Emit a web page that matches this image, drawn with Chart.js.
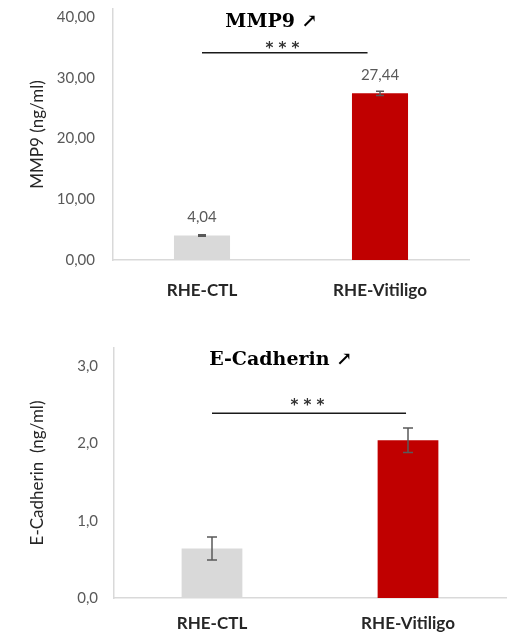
<!DOCTYPE html>
<html>
<head>
<meta charset="utf-8">
<script src="https://cdn.jsdelivr.net/npm/chart.js@4/dist/chart.umd.min.js"></script>
<style>
  body { margin: 0; background: #ffffff; }
  .panel { position: relative; width: 508px; }
</style>
</head>
<body>
<div class="panel" style="height:310px"><canvas id="mmp9"></canvas></div>
<div class="panel" style="height:324px"><canvas id="ecad"></canvas></div>
<script>
  const categories = ["RHE-CTL", "RHE-Vitiligo"];
  const mmp9Values = [4.04, 27.44];
  const mmp9Errors = [0.12, 0.35];
  const mmp9Ticks = [0, 10, 20, 30, 40];
  const ecadValues = [0.64, 2.04];
  const ecadErrors = [0.15, 0.16];
  const ecadTicks = [0, 1, 2, 3];

  const barColors = ["#d9d9d9", "#c00000"];
  const textGray = "#595959";
  const textDark = "#262626";

  function commaNumber(value, digits) {
    return Number(value).toFixed(digits).replace(".", ",");
  }

  // error bars, value labels, significance bar and title
  const annotate = {
    id: "annotate",
    afterDatasetsDraw(chart, args, opts) {
      const { ctx } = chart;
      const x = chart.scales.x;
      const y = chart.scales.y;
      const meta = chart.getDatasetMeta(0);
      ctx.save();

      ctx.strokeStyle = textGray;
      ctx.lineWidth = 1.5;
      opts.errors.forEach((err, i) => {
        const cx = meta.data[i].x;
        const top = y.getPixelForValue(opts.values[i] + err);
        const bottom = y.getPixelForValue(opts.values[i] - err);
        const cap = opts.capWidth / 2;
        ctx.beginPath();
        ctx.moveTo(cx, top);
        ctx.lineTo(cx, bottom);
        ctx.moveTo(cx - cap, top);
        ctx.lineTo(cx + cap, top);
        ctx.moveTo(cx - cap, bottom);
        ctx.lineTo(cx + cap, bottom);
        ctx.stroke();
      });

      if (opts.showValues) {
        ctx.fillStyle = textGray;
        ctx.font = "15px Lato";
        ctx.textAlign = "center";
        ctx.textBaseline = "middle";
        opts.values.forEach((v, i) => {
          const cx = meta.data[i].x;
          ctx.fillText(commaNumber(v, 2), cx, y.getPixelForValue(v) - 18);
        });
      }

      const sig = opts.sig;
      const sy = y.getPixelForValue(sig.level);
      ctx.strokeStyle = "#1a1a1a";
      ctx.lineWidth = 1.5;
      ctx.beginPath();
      ctx.moveTo(x.getPixelForValue(sig.from), sy);
      ctx.lineTo(x.getPixelForValue(sig.to), sy);
      ctx.stroke();
      ctx.fillStyle = "#333333";
      ctx.font = "bold 15px 'DejaVu Sans'";
      ctx.textAlign = "center";
      ctx.textBaseline = "alphabetic";
      ctx.fillText(sig.label, x.getPixelForValue(sig.labelAt), sy - sig.lift);

      ctx.fillStyle = "#000000";
      ctx.font = "bold 19px 'DejaVu Serif'";
      ctx.textBaseline = "middle";
      ctx.fillText(opts.title.text, x.getPixelForValue(opts.title.at), y.getPixelForValue(opts.title.level));

      ctx.restore();
    }
  };

  function makeChart(canvasId, cfg) {
    return new Chart(document.getElementById(canvasId), {
      type: "bar",
      data: {
        labels: categories,
        datasets: [{
          data: cfg.values,
          backgroundColor: barColors,
          borderWidth: 0,
          barPercentage: cfg.barPct,
          categoryPercentage: 1
        }]
      },
      options: {
        responsive: true,
        maintainAspectRatio: false,
        animation: false,
        layout: { padding: { top: cfg.padTop, right: cfg.padRight, left: 0, bottom: 0 } },
        plugins: {
          legend: { display: false },
          tooltip: { enabled: false },
          annotate: {
            values: cfg.values,
            errors: cfg.errors,
            capWidth: cfg.capWidth,
            showValues: cfg.showValues,
            sig: cfg.sig,
            title: cfg.title
          }
        },
        scales: {
          x: {
            grid: { display: false, drawTicks: false },
            border: { display: true, color: "#d9d9d9", width: 1.5 },
            ticks: { color: textDark, padding: cfg.xPad, font: { family: "Lato", size: 17, weight: "bold" } },
            afterFit: (s) => { s.height = cfg.xHeight; }
          },
          y: {
            min: 0,
            max: cfg.yMax,
            grid: { display: false, drawTicks: false },
            border: { display: true, color: "#d9d9d9", width: 1.5 },
            afterBuildTicks: (s) => { s.ticks = cfg.ticks.map((v) => ({ value: v })); },
            ticks: {
              color: textGray,
              padding: cfg.yPad,
              font: { family: "Lato", size: 15 },
              callback: (v) => commaNumber(v, cfg.digits)
            },
            title: {
              display: true,
              text: cfg.yTitle,
              color: textDark,
              font: { family: "Lato", size: 17 },
              padding: { top: 27, bottom: 0 }
            },
            afterFit: (s) => {
              s.width = cfg.yWidth;
              s.paddingTop = 0;
              s.paddingBottom = 0;
            }
          }
        }
      },
      plugins: [annotate]
    });
  }

  makeChart("mmp9", {
    values: mmp9Values,
    errors: mmp9Errors,
    ticks: mmp9Ticks,
    digits: 2,
    yMax: 41.32,
    yTitle: "MMP9 (ng/ml)",
    barPct: 0.315,
    capWidth: 8,
    showValues: true,
    padTop: 9,
    padRight: 39,
    xHeight: 50,
    xPad: 20,
    yWidth: 113,
    yPad: 18,
    sig: { from: 0, to: 0.93, level: 34.1, label: "* * *", labelAt: 0.452, lift: 0 },
    title: { text: "MMP9 \u2197", at: 0.39, level: 39.2 }
  });

  makeChart("ecad", {
    values: ecadValues,
    errors: ecadErrors,
    ticks: ecadTicks,
    digits: 1,
    yMax: 3.233,
    yTitle: "E-Cadherin  (ng/ml)",
    barPct: 0.31,
    capWidth: 10,
    showValues: false,
    padTop: 38,
    padRight: 2,
    xHeight: 36,
    xPad: 15,
    yWidth: 114,
    yPad: 16,
    sig: { from: 0, to: 0.99, level: 2.39, label: "* * *", labelAt: 0.487, lift: 3 },
    title: { text: "E-Cadherin \u2197", at: 0.35, level: 3.08 }
  });
</script>
</body>
</html>
